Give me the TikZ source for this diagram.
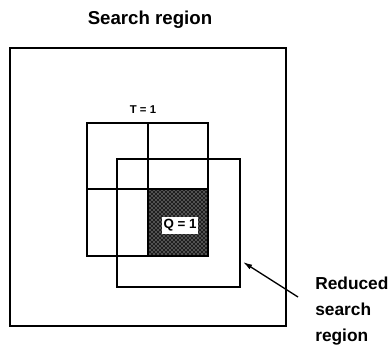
\documentclass[tikz,border=0pt]{standalone}
\usepackage{fontspec}
\setmainfont{Liberation Sans}
\usetikzlibrary{arrows.meta,patterns,positioning,calc}

\begin{document}
\begin{tikzpicture}[x=0.75pt, y=-0.75pt,
    box/.style={draw=black, line width=1.3pt},
    lbl/.style={font=\bfseries, inner sep=0pt}]
    \useasboundingbox (0,0) rectangle (392,352);

    % Outer search region
    \draw[box, line width=1.1pt] (10,48) rectangle (286,326);
    \node[lbl, font=\fontsize{14}{16}\selectfont\bfseries, anchor=base] (title) at (150,25) {Search region};

    % Shaded cell Q = 1
    \fill[black!88] (148,189) rectangle (208,256);
    \fill[pattern=crosshatch dots, pattern color=white] (148,189) rectangle (208,256);

    % 2x2 grid of T = 1
    \draw[box] (87,123) rectangle (208,256);
    \draw[box] (148,123) -- (148,256);
    \draw[box] (87,189) -- (208,189);
    \node[lbl, font=\fontsize{8.5}{9}\selectfont\bfseries] (tlabel) at (143,110) {T = 1};

    % Reduced search region
    \draw[box] (117,159) rectangle (240,287);
    \node[lbl, font=\fontsize{10}{11}\selectfont\bfseries, fill=white, inner sep=1pt,
          minimum width=35*0.75pt, minimum height=17*0.75pt] (qlabel) at (180,225.5) {Q = 1};

    % Label and arrow
    \node[lbl, font=\fontsize{13}{19.5}\selectfont\bfseries, align=left, anchor=north west] (redlabel) at (315,277) {Reduced\\search\\region};
    \coordinate (redtip) at (243,262);
    \coordinate (redtail) at (298,297);
    \draw[-{Latex[length=7pt,width=4pt]}, line width=1pt] (redtail) -- (redtip);
\end{tikzpicture}
\end{document}
